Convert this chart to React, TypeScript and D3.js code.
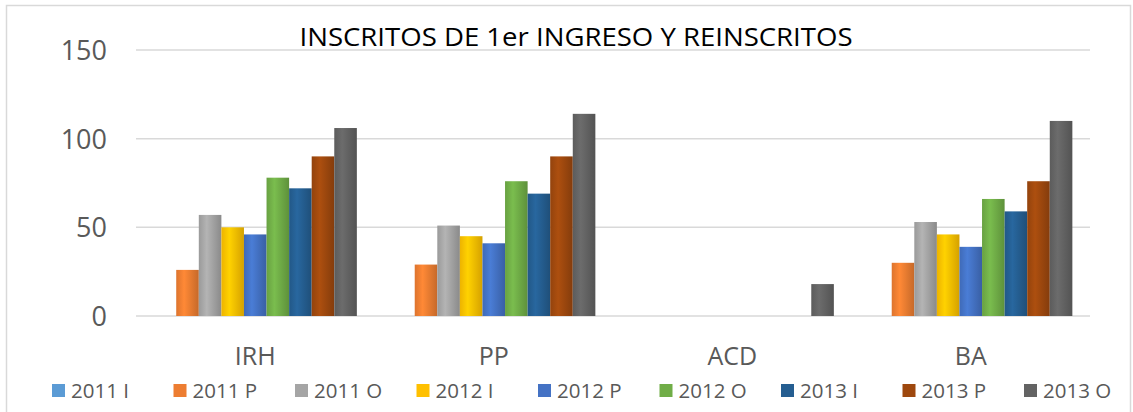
import * as d3 from "d3";
import { useRef, useEffect } from "react";

const categories = ["IRH", "PP", "ACD", "BA"];
const seriesNames = ["2011 I", "2011 P", "2011 O", "2012 I", "2012 P", "2012 O", "2013 I", "2013 P", "2013 O"];
const seriesColors = ["#5B9BD5", "#ED7D31", "#A5A5A5", "#FFC000", "#4472C4", "#70AD47", "#255E91", "#9E480E", "#636363"];
// one row per category, one value per series
const IRH = [0, 26, 57, 50, 46, 78, 72, 90, 106];
const PP = [0, 29, 51, 45, 41, 76, 69, 90, 114];
const ACD = [0, 0, 0, 0, 0, 0, 0, 0, 18];
const BA = [0, 30, 53, 46, 39, 66, 59, 76, 110];
const yTicks = [0, 50, 100, 150];
const title = "INSCRITOS DE 1er INGRESO Y REINSCRITOS";

const width = 1133;
const height = 412;
const marginLeft = 136;
const marginRight = 43;
const y0 = 316;
const y150 = 50;

export default function App() {
  const svgRef = useRef<SVGSVGElement>(null);

  useEffect(() => {
    const svg = d3.select(svgRef.current);
    svg.selectAll("*").remove();

    const rows = [IRH, PP, ACD, BA];

    const x0 = d3
      .scaleBand()
      .domain(categories)
      .range([marginLeft, width - marginRight])
      .paddingInner(0.148)
      .paddingOuter(0.074);

    const x1 = d3.scaleBand().domain(seriesNames).range([0, x0.bandwidth()]);

    const y = d3.scaleLinear().domain([0, 150]).range([y0, y150]);

    // cylinder-ish shading like the original
    const defs = svg.append("defs");
    seriesColors.forEach((c, i) => {
      const g = defs
        .append("linearGradient")
        .attr("id", `grad${i}`)
        .attr("x1", "0%")
        .attr("x2", "100%");
      g.append("stop").attr("offset", "0%").attr("stop-color", d3.color(c)!.darker(0.2).toString());
      g.append("stop").attr("offset", "35%").attr("stop-color", d3.color(c)!.brighter(0.25).toString());
      g.append("stop").attr("offset", "100%").attr("stop-color", d3.color(c)!.darker(0.5).toString());
    });

    // outer border
    svg
      .append("rect")
      .attr("x", 6.5)
      .attr("y", 5.5)
      .attr("width", 1124)
      .attr("height", 440)
      .attr("fill", "none")
      .attr("stroke", "#d9d9d9")
      .attr("stroke-width", 1.5);

    // grid
    svg
      .append("g")
      .selectAll("line")
      .data(yTicks)
      .join("line")
      .attr("x1", marginLeft)
      .attr("x2", width - marginRight)
      .attr("y1", (d) => y(d))
      .attr("y2", (d) => y(d))
      .attr("stroke", "#d9d9d9")
      .attr("stroke-width", 1.5);

    // y labels
    svg
      .append("g")
      .selectAll("text")
      .data(yTicks)
      .join("text")
      .attr("x", 107)
      .attr("y", (d) => y(d) + 10)
      .attr("text-anchor", "end")
      .attr("font-family", "Open Sans")
      .attr("font-size", 27)
      .attr("fill", "#595959")
      .text((d) => d);

    // bars
    const groups = svg
      .append("g")
      .selectAll("g")
      .data(categories)
      .join("g")
      .attr("transform", (d) => `translate(${x0(d)},0)`);

    groups
      .selectAll("rect")
      .data((d, i) => rows[i].map((v, j) => ({ key: seriesNames[j], v, j })))
      .join("rect")
      .filter((d) => d.v > 0)
      .attr("x", (d) => x1(d.key)!)
      .attr("width", x1.bandwidth())
      .attr("y", (d) => y(d.v))
      .attr("height", (d) => y0 - y(d.v))
      .attr("fill", (d) => `url(#grad${d.j})`);

    // category labels
    svg
      .append("g")
      .selectAll("text")
      .data(categories)
      .join("text")
      .attr("x", (d) => x0(d)! + x0.bandwidth() / 2)
      .attr("y", 365)
      .attr("text-anchor", "middle")
      .attr("font-family", "Open Sans")
      .attr("font-size", 25)
      .attr("fill", "#595959")
      .text((d) => d);

    // title
    svg
      .append("text")
      .attr("x", 576)
      .attr("y", 46)
      .attr("text-anchor", "middle")
      .attr("font-family", "Open Sans")
      .attr("font-size", 26)
      .attr("textLength", 553)
      .attr("lengthAdjust", "spacingAndGlyphs")
      .attr("fill", "#000")
      .text(title);

    // legend
    const lx = d3.scalePoint().domain(seriesNames).range([52, 1024]);
    const legend = svg
      .append("g")
      .selectAll("g")
      .data(seriesNames)
      .join("g")
      .attr("transform", (d) => `translate(${lx(d)},0)`);

    legend
      .append("rect")
      .attr("x", 0)
      .attr("y", 384)
      .attr("width", 13)
      .attr("height", 13)
      .attr("fill", (d, i) => seriesColors[i]);

    legend
      .append("text")
      .attr("x", 19)
      .attr("y", 398)
      .attr("font-family", "Open Sans")
      .attr("font-size", 20.5)
      .attr("fill", "#595959")
      .text((d) => d);
  }, []);

  return (
    <svg
      ref={svgRef}
      width={width}
      height={height}
      style={{ position: "absolute", left: 0, top: 0, background: "#fff" }}
    />
  );
}
